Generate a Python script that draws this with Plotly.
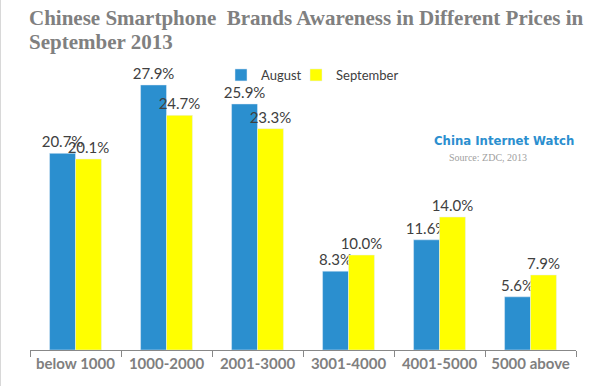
import plotly.graph_objects as go

categories = ["below 1000", "1000-2000", "2001-3000", "3001-4000", "4001-5000", "5000 above"]
august = [20.7, 27.9, 25.9, 8.3, 11.6, 5.6]
september = [20.1, 24.7, 23.3, 10.0, 14.0, 7.9]

W, H = 600, 386
ML, MR, MT, MB = 30, 24, 65, 36
pw, ph = W - ML - MR, H - MT - MB

def px(x):
    return (x - ML) / pw

def py(y):
    return (H - MB - y) / ph

fig = go.Figure()
fig.add_trace(go.Bar(x=categories, y=august, name="August", marker_color="#2b8fcf",
                     text=[f"{v:.1f}%" for v in august], textposition="outside",
                     constraintext="none", legend="legend",
                     textfont=dict(family="Lato", size=15, color="#404040"), cliponaxis=False))
fig.add_trace(go.Bar(x=categories, y=september, name="September", marker_color="#ffff00",
                     text=[f"{v:.1f}%" for v in september], textposition="outside",
                     constraintext="none", legend="legend2",
                     textfont=dict(family="Lato", size=15, color="#404040"), cliponaxis=False))

legend_common = dict(orientation="h", y=py(75), xanchor="left", yanchor="middle",
                     font=dict(family="Lato", size=13, color="#404040"),
                     itemwidth=30, bgcolor="rgba(0,0,0,0)")

fig.update_layout(
    width=W, height=H,
    margin=dict(l=ML, r=MR, t=MT, b=MB, autoexpand=False),
    paper_bgcolor="white", plot_bgcolor="white",
    barmode="group", bargap=0.43, bargroupgap=0,
    legend=dict(x=px(221), **legend_common),
    legend2=dict(x=px(296), **legend_common),
    showlegend=True,
    xaxis=dict(showline=True, linecolor="#888888", linewidth=1, ticks="outside",
               tickson="boundaries", ticklen=6, tickcolor="#888888", automargin=False,
               tickfont=dict(family="Lato", size=15, color="#7f7f7f", weight="bold")),
    yaxis=dict(range=[0, 30], visible=False, automargin=False),
    shapes=[dict(type="line", xref="paper", yref="paper", x0=px(0.5), x1=px(0.5),
                 y0=py(0), y1=py(H), line=dict(color="#d8d8d8", width=1))],
    annotations=[
        dict(text="<b>Chinese Smartphone  Brands Awareness in Different Prices in</b>",
             x=px(27), y=py(18), xanchor="left", yanchor="middle", align="left",
             showarrow=False, font=dict(family="Liberation Serif", size=21, color="#808080")),
        dict(text="<b>September 2013</b>",
             x=px(27), y=py(42), xanchor="left", yanchor="middle", align="left",
             showarrow=False, font=dict(family="Liberation Serif", size=21, color="#808080")),
        dict(text="<b>China Internet Watch</b>", x=px(504), y=py(140),
             xanchor="center", yanchor="middle", showarrow=False,
             font=dict(family="DejaVu Sans Condensed", size=13, color="#2b8fcf")),
        dict(text="Source: ZDC, 2013", x=px(488), y=py(157),
             xanchor="center", yanchor="middle", showarrow=False,
             font=dict(family="Liberation Serif", size=10, color="#a0a0a0")),
    ],
)
for a in fig.layout.annotations:
    a.xref = "paper"; a.yref = "paper"

fig.write_html("out.html", config={"displayModeBar": False},
               post_script="document.body.style.margin='0';")
